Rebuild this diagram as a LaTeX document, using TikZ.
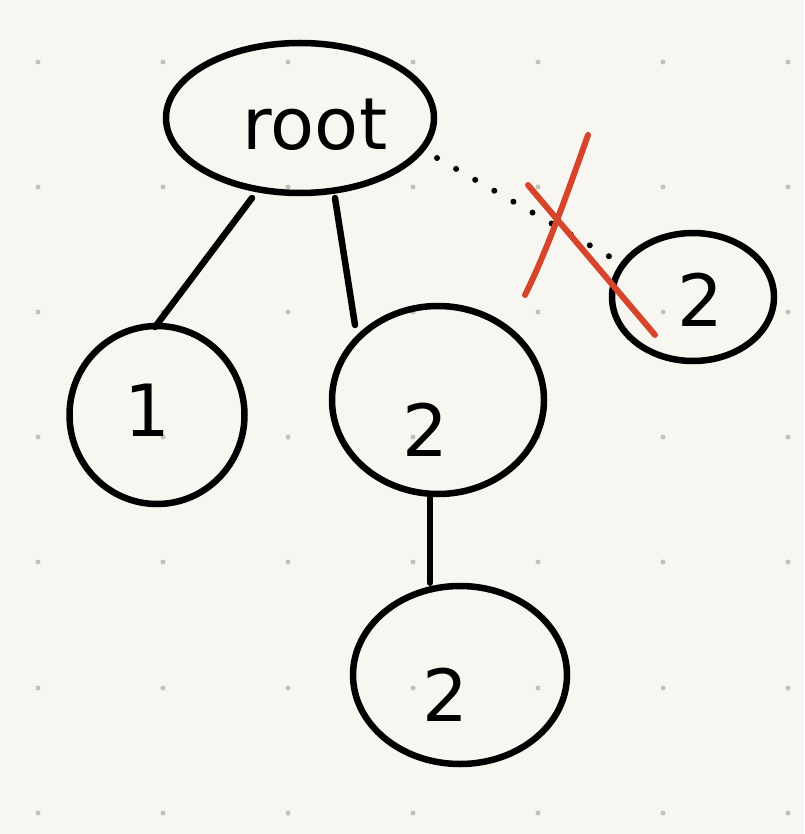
\documentclass[tikz,border=0pt]{standalone}
\usepackage{fontspec}
\setmainfont{DejaVu Sans}
\usetikzlibrary{shapes.geometric}
\definecolor{paper}{RGB}{248,246,241}
\definecolor{dotc}{RGB}{195,193,187}
\definecolor{redx}{RGB}{214,68,44}
\tikzset{
  blob/.style={draw=black, line width=6.5pt, ellipse, inner sep=0pt},
  lbl/.style={font=\fontsize{72}{72}\selectfont},
  edge/.style={draw=black, line width=6.5pt, line cap=round},
  cross/.style={draw=redx, line width=6pt, line cap=round}
}
\begin{document}
\begin{tikzpicture}[x=1pt,y=-1pt]
\fill[paper] (0,0) rectangle (804,834);
\useasboundingbox (0,0) rectangle (804,834);
\foreach \gx in {38,163,288,413,538,663,788}
  \foreach \gy in {62,187,312,437,562,688,813}
    \fill[dotc] (\gx,\gy) circle (2.5);
\node[blob, minimum width=268pt, minimum height=150pt] (root) at (300,118) {};
\node[lbl] (roott) at (315,125) {root};
\node[blob, minimum width=175pt, minimum height=178pt] (n1) at (157,415) {};
\node[lbl] (n1t) at (147,410) {1};
\node[blob, minimum width=212pt, minimum height=188pt] (n2) at (438,400) {};
\node[lbl] (n2t) at (425,430) {2};
\node[blob, minimum width=214pt, minimum height=178pt] (n3) at (460,675) {};
\node[lbl] (n3t) at (445,695) {2};
\node[blob, minimum width=162pt, minimum height=128pt] (n4) at (693,297) {};
\node[lbl] (n4t) at (700,300) {2};
\coordinate (a1) at (252,198);
\coordinate (a2) at (155,327);
\draw[edge] (a1) -- (a2);
\coordinate (b1) at (335,198);
\coordinate (b2) at (355,325);
\draw[edge] (b1) -- (b2);
\draw[edge] (n2.south) ++(-8,0) coordinate (c1) -- (c1 |- n3.north) coordinate (c2);
\coordinate (d1) at (437,158);
\coordinate (d2) at (612,258);
\draw[black, line width=6pt, line cap=round, dash pattern=on 0pt off 22pt] (d1) -- (d2);
\coordinate (x1) at (528,185);
\coordinate (x2) at (655,335);
\draw[cross] (x1) -- (x2);
\coordinate (y1) at (588,135);
\coordinate (y2) at (525,295);
\draw[cross] (y1) .. controls (565,200) and (545,255) .. (y2);
\end{tikzpicture}
\end{document}
